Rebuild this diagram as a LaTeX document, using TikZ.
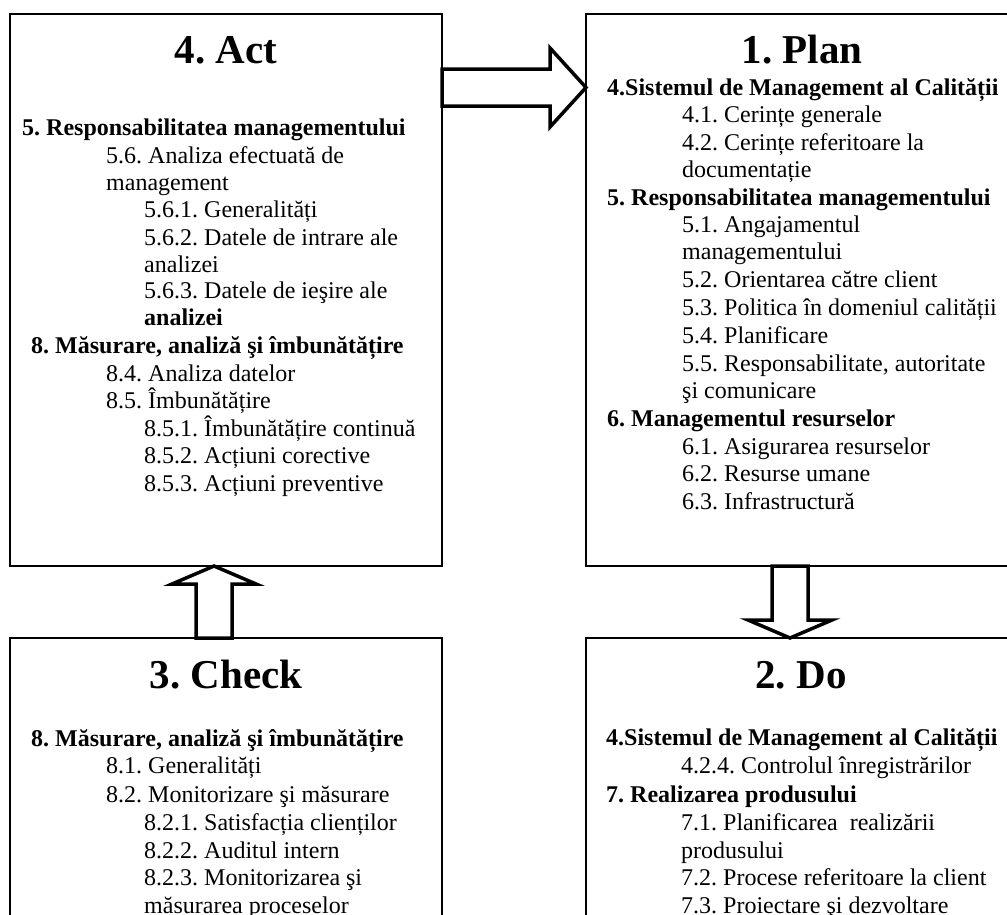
\documentclass[tikz,border=0pt]{standalone}
\usepackage{fontspec}
\setmainfont{Liberation Serif}
\usetikzlibrary{calc}
\frenchspacing

\tikzset{
  phasebox/.style={draw, line width=2pt, inner sep=0pt, outer sep=0pt,
                   minimum width=432pt, minimum height=552pt},
  phasetitle/.style={anchor=base, inner sep=0pt,
                     font=\fontsize{41pt}{45pt}\selectfont\bfseries},
  item/.style={anchor=base west, inner sep=0pt,
               font=\fontsize{24pt}{27.5pt}\selectfont},
  head/.style={item, font=\fontsize{24pt}{27.5pt}\selectfont\bfseries},
  blockarrow/.style={draw, line width=3.5pt, fill=white, line join=miter}
}

\begin{document}
\begin{tikzpicture}[x=1pt, y=-1pt]
\useasboundingbox (0,0) rectangle (1007,914);
\clip (0,0) rectangle (1007,914);

% the four PDCA boxes
\node[phasebox] (act)   at (226,290) {};
\node[phasebox] (plan)  at (802,290) {};
\node[phasebox] (check) at (226,914) {};
\node[phasebox] (do)    at (802,914) {};

% titles
\node[phasetitle] (actT)   at (226,63)  {4. Act};
\node[phasetitle] (planT)  at (802,63)  {1. Plan};
\node[phasetitle] (checkT) at (226,688) {3. Check};
\node[phasetitle] (doT)    at (801,688) {2. Do};

% Act
\node[head] (a1)  at (22,135)  {5. Responsabilitatea managementului};
\node[item] (a2)  at (106,163) {5.6. Analiza efectuată de};
\node[item] (a3)  at (106,190) {management};
\node[item] (a4)  at (144,217) {5.6.1. Generalități};
\node[item] (a5)  at (144,245) {5.6.2. Datele de intrare ale};
\node[item] (a6)  at (144,272) {analizei};
\node[item] (a7)  at (144,298) {5.6.3. Datele de ieşire ale};
\node[head] (a8)  at (144,325) {analizei};
\node[head] (a9)  at (31,353)  {8. Măsurare, analiză şi îmbunătățire};
\node[item] (a10) at (106,381) {8.4. Analiza datelor};
\node[item] (a11) at (106,408) {8.5. Îmbunătățire};
\node[item] (a12) at (144,436) {8.5.1. Îmbunătățire continuă};
\node[item] (a13) at (144,463) {8.5.2. Acțiuni corective};
\node[item] (a14) at (144,491) {8.5.3. Acțiuni preventive};

% Plan
\node[head] (p1)  at (607,95)  {4.Sistemul de Management al Calității};
\node[item] (p2)  at (682,122) {4.1. Cerințe generale};
\node[item] (p3)  at (682,150) {4.2. Cerințe referitoare la};
\node[item] (p4)  at (682,177) {documentație};
\node[head] (p5)  at (607,205) {5. Responsabilitatea managementului};
\node[item] (p6)  at (682,232) {5.1. Angajamentul};
\node[item] (p7)  at (682,259) {managementului};
\node[item] (p8)  at (682,287) {5.2. Orientarea către client};
\node[item] (p9)  at (682,315) {5.3. Politica în domeniul calității};
\node[item] (p10) at (682,343) {5.4. Planificare};
\node[item] (p11) at (682,371) {5.5. Responsabilitate, autoritate};
\node[item] (p12) at (682,398) {şi comunicare};
\node[head] (p13) at (607,426) {6. Managementul resurselor};
\node[item] (p14) at (682,454) {6.1. Asigurarea resurselor};
\node[item] (p15) at (682,481) {6.2. Resurse umane};
\node[item] (p16) at (682,509) {6.3. Infrastructură};

% Check
\node[head] (c1) at (31,746)  {8. Măsurare, analiză şi îmbunătățire};
\node[item] (c2) at (106,773) {8.1. Generalități};
\node[item] (c3) at (106,802) {8.2. Monitorizare şi măsurare};
\node[item] (c4) at (144,830) {8.2.1. Satisfacția clienților};
\node[item] (c5) at (144,858) {8.2.2. Auditul intern};
\node[item] (c6) at (144,885) {8.2.3. Monitorizarea şi};
\node[item] (c7) at (144,913) {măsurarea proceselor};

% Do
\node[head] (d1) at (606,745) {4.Sistemul de Management al Calității};
\node[item] (d2) at (681,773) {4.2.4. Controlul înregistrărilor};
\node[head] (d3) at (606,802) {7. Realizarea produsului};
\node[item] (d4) at (681,830) {7.1. Planificarea\ \ realizării};
\node[item] (d5) at (681,858) {produsului};
\node[item] (d6) at (681,885) {7.2. Procese referitoare la client};
\node[item] (d7) at (681,913) {7.3. Proiectare şi dezvoltare};

% Act -> Plan
\draw[blockarrow]
  ($(act.north east)+(0,55)$) -- ($(plan.north west)+(-36,55)$)
  -- ($(plan.north west)+(-36,34)$) -- ($(plan.north west)+(0,73.5)$)
  -- ($(plan.north west)+(-36,113)$) -- ($(plan.north west)+(-36,92)$)
  -- ($(act.north east)+(0,92)$) -- cycle;

% Plan -> Do
\draw[blockarrow]
  ($(plan.south)+(-30,0)$) -- ($(do.north)+(-30,-18)$)
  -- ($(do.north)+(-54,-18)$) -- ($(do.north)+(-12,0)$)
  -- ($(do.north)+(30,-18)$) -- ($(do.north)+(6,-18)$)
  -- ($(plan.south)+(6,0)$) -- cycle;

% Check -> Act
\draw[blockarrow]
  ($(check.north)+(-30,0)$) -- ($(act.south)+(-30,18)$)
  -- ($(act.south)+(-54,18)$) -- ($(act.south)+(-12,0)$)
  -- ($(act.south)+(30,18)$) -- ($(act.south)+(6,18)$)
  -- ($(check.north)+(6,0)$) -- cycle;
\end{tikzpicture}
\end{document}
